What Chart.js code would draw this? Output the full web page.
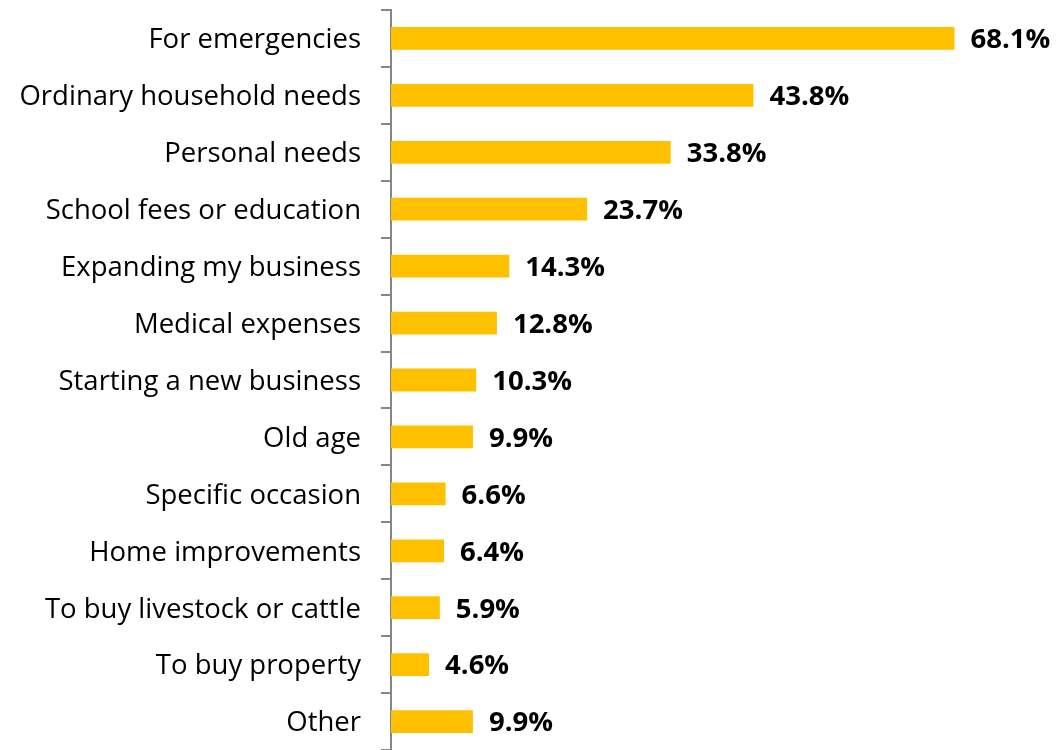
<!DOCTYPE html>
<html>
<head>
<meta charset="utf-8">
<script src="https://cdn.jsdelivr.net/npm/chart.js@4.4.1/dist/chart.umd.min.js"></script>
<style>
    html, body { margin: 0; padding: 0; background: #fff; }
    #wrap { width: 1064px; height: 750px; }
</style>
</head>
<body>
<div id="wrap"><canvas id="reasonsChart"></canvas></div>
<script>
const reasons = [
    'For emergencies',
    'Ordinary household needs',
    'Personal needs',
    'School fees or education',
    'Expanding my business',
    'Medical expenses',
    'Starting a new business',
    'Old age',
    'Specific occasion',
    'Home improvements',
    'To buy livestock or cattle',
    'To buy property',
    'Other',
];
const shares = [68.1, 43.8, 33.8, 23.7, 14.3, 12.8, 10.3, 9.9, 6.6, 6.4, 5.9, 4.6, 9.9];

const fontFamily = '"Open Sans", "Noto Sans", sans-serif';
const axisColor = '#868686';

// writes the percentage just past the end of each bar
const valueLabels = {
    id: 'valueLabels',
    afterDatasetsDraw(chart) {
        const { ctx } = chart;
        const meta = chart.getDatasetMeta(0);
        ctx.save();
        ctx.fillStyle = '#000';
        ctx.font = `bold 27.5px ${fontFamily}`;
        ctx.textAlign = 'left';
        ctx.textBaseline = 'middle';
        meta.data.forEach((bar, i) => {
            ctx.fillText(`${shares[i].toFixed(1)}%`, bar.x + 16, bar.y + 2);
        });
        ctx.restore();
    },
};

function initReasonsChart() {
    const canvas = document.getElementById('reasonsChart');
    if (!canvas) {
        return;
    }

    // eslint-disable-next-line no-new
    new Chart(canvas, {
        type: 'bar',
        data: {
            labels: reasons,
            datasets: [{
                data: shares,
                backgroundColor: '#FFC000',
                borderWidth: 0,
                categoryPercentage: 1,
                barPercentage: 0.4,
            }],
        },
        options: {
            indexAxis: 'y',
            responsive: true,
            maintainAspectRatio: false,
            animation: false,
            layout: {
                // last row runs slightly past the bottom edge
                padding: { top: 10, right: 11, bottom: -4, left: 0 },
            },
            plugins: {
                legend: { display: false },
                tooltip: { enabled: false },
            },
            scales: {
                x: {
                    display: false,
                    min: 0,
                    max: 80,
                },
                y: {
                    afterFit(scale) {
                        scale.width = 391;
                        scale.paddingTop = 0;
                        scale.paddingBottom = 0;
                    },
                    ticks: {
                        color: '#000',
                        padding: 20,
                        labelOffset: 2,
                        font: {
                            family: fontFamily,
                            size: 27.5,
                        },
                    },
                    grid: {
                        drawOnChartArea: false,
                        drawTicks: true,
                        tickLength: 10,
                        color: axisColor,
                        lineWidth: 2,
                    },
                    border: {
                        display: true,
                        color: axisColor,
                        width: 2,
                    },
                },
            },
        },
        plugins: [valueLabels],
    });
}

initReasonsChart();
</script>
</body>
</html>
